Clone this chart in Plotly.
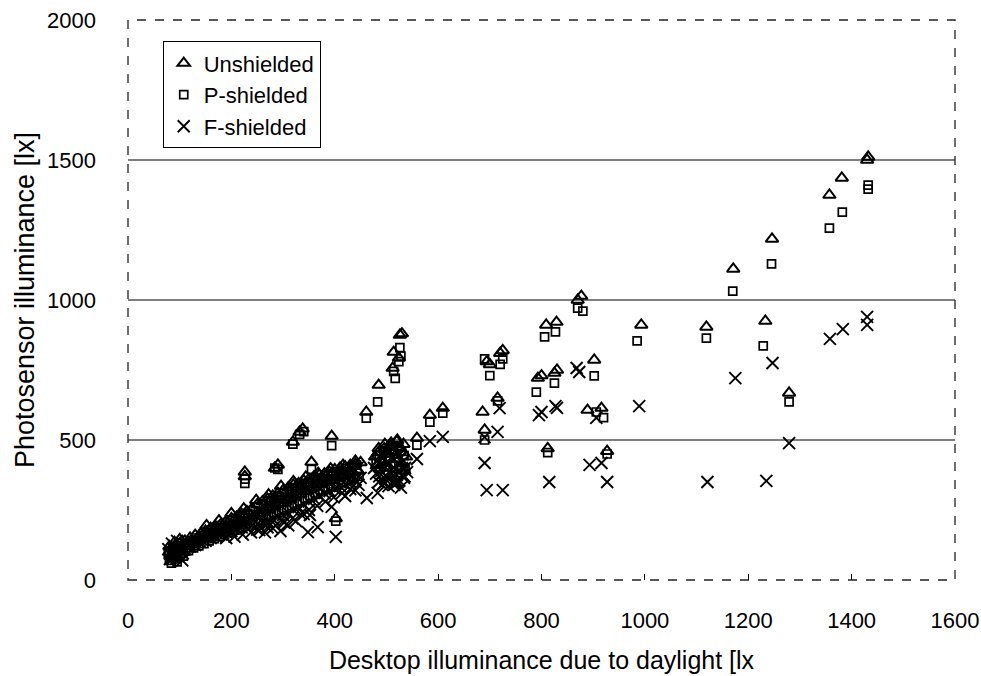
import plotly.graph_objects as go

# ---------------- data ----------------
# Unshielded (triangles): dense low-range band + scattered points
unshielded_band_x = [80, 85, 90, 95, 100, 105, 110, 120, 130, 140, 150, 160, 170, 180, 190, 200, 210, 220, 230, 240,
                     250, 260, 270, 280, 290, 300, 310, 320, 330, 340, 350, 360, 370, 380, 390, 400, 410, 420, 430, 440, 450,
                     82, 88, 93, 98, 103, 108, 115, 125, 135, 145, 155, 165, 175, 185, 195, 205, 215, 225, 235, 245,
                     255, 265, 275, 285, 295, 305, 315, 325, 335, 345, 355, 365, 375, 385, 395, 405, 415, 425, 435, 445,
                     478, 484, 490, 496, 502, 508, 514, 520, 526, 532, 538, 482, 494, 506, 518, 530,
                     152, 176, 200, 224, 248, 272, 296, 320, 344, 368, 392, 416, 440, 80, 90, 100,
                     485, 497, 509, 521, 533]
unshielded_band_y = [100, 115, 110, 125, 130, 120, 140, 150, 160, 165, 175, 185, 190, 200, 210, 220, 225, 235, 245, 255,
                     270, 280, 290, 300, 310, 320, 330, 340, 345, 355, 360, 370, 375, 380, 385, 395, 400, 405, 410, 415, 420,
                     85, 95, 90, 105, 110, 100, 120, 130, 140, 145, 155, 165, 170, 180, 190, 195, 205, 210, 220, 230,
                     240, 250, 260, 270, 275, 285, 295, 305, 315, 320, 330, 340, 345, 350, 355, 365, 370, 375, 385, 390,
                     440, 455, 430, 470, 450, 480, 460, 495, 475, 455, 440, 410, 420, 400, 430, 415,
                     195, 212, 238, 255, 285, 305, 335, 352, 368, 382, 398, 410, 425, 120, 135, 145,
                     470, 485, 490, 500, 485]
unshielded_x = [226, 226, 290, 284, 319, 332, 338, 355, 394, 402, 461, 485, 512, 514, 524, 526, 530, 559, 584, 609,
                686, 690, 694, 700, 715, 720, 725, 793, 800, 809, 812, 825, 829, 830, 877, 870, 889, 902, 916, 927,
                993, 1119, 1171, 1233, 1246, 1279, 1357, 1381, 1432, 1430]
unshielded_y = [386, 370, 411, 400, 493, 529, 540, 421, 514, 220, 600, 696, 757, 814, 793, 875, 880, 507, 589, 614,
                600, 536, 780, 770, 650, 810, 820, 721, 730, 911, 470, 739, 921, 750, 1014, 1000, 607, 786, 614, 460,
                911, 904, 1111, 925, 1218, 668, 1375, 1436, 1511, 1500]

# P-shielded (squares)
pshielded_band_x = [78, 84, 89, 94, 99, 104, 112, 122, 132, 142, 152, 162, 172, 182, 192, 202, 212, 222, 232, 242,
                    252, 262, 272, 282, 292, 302, 312, 322, 332, 342, 352, 362, 372, 382, 392, 402, 412, 422, 432, 442,
                    80, 86, 91, 96, 101, 107, 117, 127, 137, 147, 157, 167, 177, 187, 197, 207, 217, 227, 237, 247,
                    257, 267, 277, 287, 297, 307, 317, 327, 337, 347, 357, 367, 377, 387, 397, 407, 417, 427, 437, 447,
                    480, 486, 492, 498, 504, 510, 516, 522, 528, 534, 488, 500, 512, 524, 536, 84, 95]
pshielded_band_y = [95, 105, 100, 115, 120, 110, 130, 140, 150, 158, 168, 178, 185, 195, 205, 212, 220, 228, 238, 248,
                    262, 272, 282, 292, 300, 312, 320, 330, 338, 345, 352, 360, 366, 372, 378, 385, 392, 398, 404, 410,
                    70, 80, 75, 90, 95, 85, 105, 115, 122, 130, 140, 148, 155, 162, 170, 178, 185, 192, 200, 208,
                    215, 225, 232, 240, 250, 258, 266, 275, 283, 292, 300, 308, 318, 325, 332, 340, 348, 355, 362, 370,
                    420, 445, 430, 455, 440, 465, 450, 480, 460, 445, 395, 405, 385, 410, 400, 60, 65]
pshielded_x = [226, 226, 284, 290, 319, 332, 340, 355, 394, 402, 461, 483, 514, 517, 524, 526, 528, 559, 584, 609,
               690, 690, 700, 715, 720, 725, 790, 806, 812, 825, 827, 870, 880, 902, 906, 920, 927, 985, 1119, 1170,
               1229, 1245, 1279, 1357, 1382, 1432, 1432]
pshielded_y = [345, 360, 400, 395, 485, 520, 530, 395, 480, 210, 578, 636, 745, 720, 780, 830, 800, 482, 564, 596,
               500, 790, 730, 640, 770, 790, 671, 868, 455, 703, 886, 971, 960, 729, 600, 580, 450, 854, 864, 1032,
               836, 1129, 636, 1257, 1314, 1396, 1410]

# F-shielded (crosses)
fshielded_band_x = [78, 83, 88, 93, 98, 103, 110, 120, 130, 140, 150, 160, 170, 180, 190, 200, 210, 220, 230, 240,
                    250, 260, 270, 280, 290, 300, 310, 320, 330, 340, 350, 360, 370, 380, 390, 400, 410, 420, 430, 440, 450,
                    81, 86, 91, 96, 101, 106, 115, 125, 135, 145, 155, 165, 175, 185, 195, 205, 215, 225, 235, 245,
                    255, 265, 275, 285, 295, 305, 315, 325, 335, 345, 355, 365, 375, 385, 395, 405, 415, 425, 435, 445,
                    476, 482, 488, 494, 500, 506, 512, 518, 524, 530, 536, 486, 498, 510, 522, 534, 492, 504, 516, 528,
                    190, 206, 222, 238, 254, 270, 286, 302, 318, 334, 350, 366, 382, 398, 414, 430, 446,
                    480, 490, 500, 510, 520, 530, 540, 485, 495, 505, 515, 525, 535, 85, 95, 105]
fshielded_band_y = [110, 95, 80, 100, 88, 105, 110, 120, 125, 135, 140, 150, 155, 162, 170, 175, 180, 188, 190, 195,
                    200, 205, 210, 218, 225, 232, 240, 250, 260, 270, 280, 290, 300, 310, 318, 325, 335, 342, 350, 358, 365,
                    75, 90, 100, 85, 110, 95, 118, 130, 140, 150, 158, 168, 175, 183, 192, 200, 208, 215, 225, 235,
                    245, 255, 262, 270, 280, 290, 298, 308, 318, 325, 335, 342, 350, 358, 365, 372, 380, 388, 395, 402,
                    400, 425, 410, 440, 420, 455, 435, 465, 445, 420, 400, 370, 360, 380, 350, 365, 340, 335, 345, 330,
                    150, 155, 162, 170, 178, 188, 195, 205, 220, 235, 250, 265, 280, 295, 310, 325, 340,
                    380, 390, 370, 395, 375, 400, 385, 350, 345, 360, 340, 355, 370, 130, 140, 70]
fshielded_x = [250, 265, 280, 295, 310, 325, 340, 300, 270, 420, 440,
               348, 352, 367, 394, 402, 462, 483, 516, 531, 559, 584, 609, 690, 694, 715, 719, 725, 690,
               795, 800, 815, 827, 830, 868, 873, 893, 906, 916, 927, 989, 1121, 1175, 1235, 1247, 1279,
               1358, 1383, 1430, 1430]
fshielded_y = [180, 170, 185, 175, 195, 210, 235, 210, 200, 300, 320,
               171, 232, 189, 261, 154, 293, 311, 350, 375, 432, 496, 511, 418, 321, 529, 614, 321, 510,
               589, 600, 350, 621, 615, 757, 743, 411, 579, 418, 350, 621, 350, 721, 354, 775, 489,
               861, 896, 911, 940]

series_names = ["Unshielded", "P-shielded", "F-shielded"]
gridline_values = [500, 1000, 1500]
x_ticks = [0, 200, 400, 600, 800, 1000, 1200, 1400, 1600]
y_ticks = [0, 500, 1000, 1500, 2000]

FONT = "Liberation Sans, Arial, sans-serif"

fig = go.Figure()
fig.add_trace(go.Scatter(x=unshielded_band_x + unshielded_x, y=unshielded_band_y + unshielded_y,
                         mode="markers", name=series_names[0],
                         marker=dict(symbol="triangle-up-open", size=11, color="black",
                                     line=dict(width=2, color="black"))))
fig.add_trace(go.Scatter(x=pshielded_band_x + pshielded_x, y=pshielded_band_y + pshielded_y,
                         mode="markers", name=series_names[1],
                         marker=dict(symbol="square-open", size=8, color="black",
                                     line=dict(width=1.7, color="black"))))
fig.add_trace(go.Scatter(x=fshielded_band_x + fshielded_x, y=fshielded_band_y + fshielded_y,
                         mode="markers", name=series_names[2],
                         marker=dict(symbol="x-thin-open", size=12, color="black",
                                     line=dict(width=1.9, color="black"))))

for g in gridline_values:
    fig.add_shape(type="line", xref="paper", x0=0, x1=1, yref="y", y0=g, y1=g,
                  line=dict(color="black", width=1.2), layer="below")

fig.add_shape(type="rect", xref="paper", yref="paper", x0=0, x1=1, y0=0, y1=1,
              line=dict(color="#222", width=1.3, dash="dash"))

fig.update_layout(
    width=981, height=676,
    margin=dict(l=128, r=26, t=20, b=96),
    paper_bgcolor="white", plot_bgcolor="white",
    font=dict(family=FONT, size=22, color="black"),
    showlegend=True,
    legend=dict(x=0.042, y=0.962, xanchor="left", yanchor="top",
                bgcolor="white", bordercolor="black", borderwidth=1,
                font=dict(family=FONT, size=22, color="black"),
                itemwidth=30, tracegroupgap=0),
    xaxis=dict(range=[0, 1600], tickvals=x_ticks, showgrid=False, zeroline=False,
               showline=False, ticks="inside", ticklen=6, tickcolor="black",
               ticklabelstandoff=25, tickfont=dict(size=22), automargin=False,
               title=dict(text="Desktop illuminance due to daylight [lx", standoff=19,
                          font=dict(size=25))),
    yaxis=dict(range=[0, 2000], tickvals=y_ticks, showgrid=False, zeroline=False,
               showline=False, ticks="", ticklabelstandoff=31, tickfont=dict(size=22),
               automargin=False,
               title=dict(text="Photosensor illuminance [lx]", standoff=4,
                          font=dict(size=27))),
)

fig.write_html("out.html")
